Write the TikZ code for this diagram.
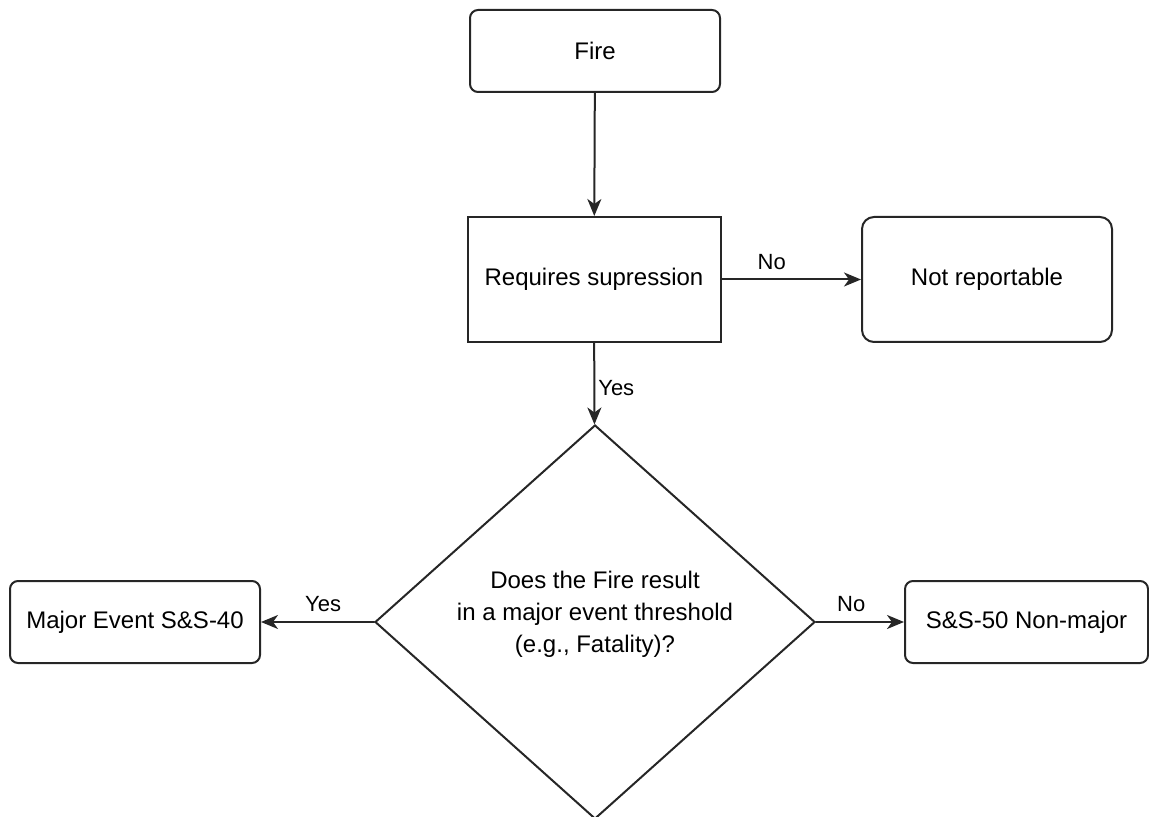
\documentclass[tikz,border=0pt]{standalone}
\usepackage{fontspec}
\setmainfont{Liberation Sans}
\usetikzlibrary{arrows.meta,shapes.geometric}

\begin{document}
\begin{tikzpicture}[x=0.5pt,y=-0.5pt,>={Stealth[length=8.5pt,width=7pt,inset=2.5pt]},
  font=\fontsize{12}{16}\selectfont,line width=1pt,line cap=round,
  box/.style={draw=black!85,align=center,inner sep=2pt},
  roundbox/.style={box,rounded corners=4pt},
  decision/.style={draw=black!85,diamond,inner sep=0pt,minimum width=220pt,minimum height=197pt},
  edgelabel/.style={font=\fontsize{11}{13}\selectfont,inner sep=4.5pt},
  link/.style={draw=black!85,->}]
\useasboundingbox (0,0) rectangle (1149,817);
% boxes
\node[roundbox,minimum width=125pt,minimum height=41pt] (fire) at (595,51) {Fire};
\node[box,minimum width=126.5pt,minimum height=62.5pt] (supress) at (594,279.5) {Requires supression};
\node[roundbox,rounded corners=6pt,minimum width=125pt,minimum height=62.5pt] (notrep) at (987,279.5) {Not reportable};
\node[decision,label={[align=center,yshift=4pt]center:Does the Fire result\\in a major event threshold\\(e.g., Fatality)?}] (fatal) at (595,622) {};
\node[roundbox,minimum width=125pt,minimum height=41pt] (major) at (135,622) {Major Event S\&S-40};
\node[roundbox,minimum width=121.5pt,minimum height=41pt] (nonmajor) at (1026.5,622) {S\&S-50 Non-major};
% connectors
\draw[link] (fire) -- (supress);
\draw[link] (supress) -- node[edgelabel,above,pos=0.36] (lblno1) {No} (notrep);
\draw[link] (supress) -- node[edgelabel,right,pos=0.55,inner sep=1.5pt] (lblyes1) {Yes} (fatal);
\draw[link] (fatal) -- node[edgelabel,above,pos=0.45] (lblyes2) {Yes} (major);
\draw[link] (fatal) -- node[edgelabel,above,pos=0.4] (lblno2) {No} (nonmajor);
\end{tikzpicture}
\end{document}
